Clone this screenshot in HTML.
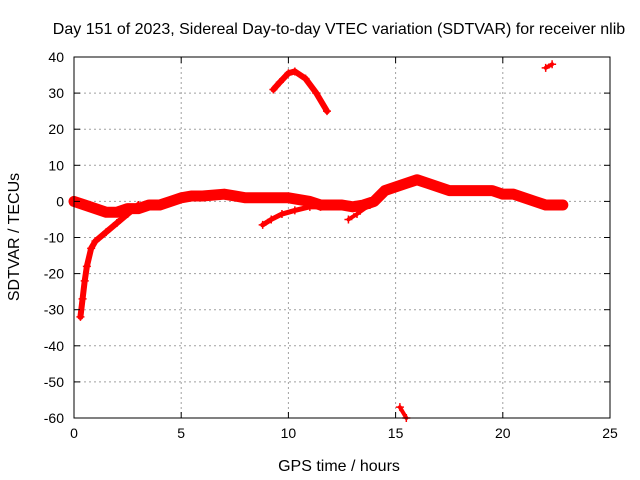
<!DOCTYPE html>
<html><head><meta charset="utf-8"><style>
body{margin:0;background:#fff;}
svg{display:block;font-family:"Liberation Sans",sans-serif;}
</style></head><body>
<svg id="chart" width="640" height="480">
<text x="339" y="34" font-size="16" text-anchor="middle">Day 151 of 2023, Sidereal Day-to-day VTEC variation (SDTVAR) for receiver nlib</text>
<text x="339" y="471" font-size="16" text-anchor="middle">GPS time / hours</text>
<text transform="translate(19,237) rotate(-90)" font-size="16" text-anchor="middle">SDTVAR / TECUs</text>
<g id="grid"></g><g id="marks"></g>
<rect x="74" y="57" width="536" height="361" fill="none" stroke="#000" stroke-width="1"/>
<g id="ticks"></g>
</svg>
<script>
const xTicks=[0,5,10,15,20,25];
const yTicks=[40,30,20,10,0,-10,-20,-30,-40,-50,-60];
const bandX=[0,0.5,1,1.5,2,2.5,3,3.5,4,4.5,5,5.5,6,7,7.5,8,9,10,11,11.5,12,12.5,13,13.5,14,14.5,15,15.5,16,16.5,17,17.5,18,19,19.5,20,20.5,21,21.5,22,22.5,22.8];
const bandY=[0,-1,-2,-3,-3,-2,-2,-1,-1,0,1,1.5,1.5,2,1.5,1,1,1,0,-1,-1,-1,-1.5,-1,0,3,4,5,6,5,4,3,3,3,3,2,2,1,0,-1,-1,-1];
const riseX=[0.3,0.4,0.5,0.6,0.8,1,1.5,2,2.5,3];
const riseY=[-32,-27,-22,-18,-13,-11,-8.5,-6,-3.5,-1];
const lowX=[8.8,9.2,9.7,10.3,11,11.5];
const lowY=[-6.5,-5,-3.5,-2.5,-1.5,-1.5];
const arcX=[9.3,9.6,10,10.3,10.8,11.3,11.8];
const arcY=[31,33,35.5,36,34,30,25];
const shortX=[12.8,13.2,13.8];
const shortY=[-5,-3.5,-1];
const dropX=[15.2,15.5];
const dropY=[-57,-60];
const highX=[22,22.3];
const highY=[37,38];
const X0=74,X1=610,Y0=418,Y1=57;
const sx=v=>X0+(v-0)/(25-0)*(X1-X0);
const sy=v=>Y0-(v+60)/(100)*(Y0-Y1);
const NS="http://www.w3.org/2000/svg";
const grid=document.getElementById('grid'),ticks=document.getElementById('ticks'),marks=document.getElementById('marks');
function mk(tag,attrs,parent){const e=document.createElementNS(NS,tag);for(const k in attrs)e.setAttribute(k,attrs[k]);parent.appendChild(e);return e;}
xTicks.forEach(t=>{const x=sx(t);
 if(t>0&&t<25){const g=mk('line',{x1:x,x2:x,y1:Y1,y2:Y0,stroke:'#a0a0a0','stroke-dasharray':'2,3'},grid);
 
 }
 mk('line',{x1:x,x2:x,y1:Y0,y2:Y0-6,stroke:'#000'},ticks);mk('line',{x1:x,x2:x,y1:Y1,y2:Y1+6,stroke:'#000'},ticks);
 const l=mk('text',{x:x,y:Y0+20,'font-size':14,'text-anchor':'middle'},ticks);l.textContent=t;
 
 });
yTicks.forEach(t=>{const y=sy(t);
 if(t>-60&&t<40){const g=mk('line',{x1:X0,x2:X1,y1:y,y2:y,stroke:'#a0a0a0','stroke-dasharray':'2,3'},grid);
 
 }
 mk('line',{x1:X0,x2:X0+6,y1:y,y2:y,stroke:'#000'},ticks);mk('line',{x1:X1,x2:X1-6,y1:y,y2:y,stroke:'#000'},ticks);
 const l=mk('text',{x:X0-10,y:y+5,'font-size':14,'text-anchor':'end'},ticks);l.textContent=t;
 
 });
function series(xs,ys,w,name){
 const pts=xs.map((v,i)=>sx(v)+','+sy(ys[i])).join(' ');
 const p=mk('polyline',{points:pts,fill:'none',stroke:'#f00','stroke-width':w,'stroke-linejoin':'round','stroke-linecap':'round'},marks);
 
 
 xs.forEach((v,i)=>{const x=sx(v),y=sy(ys[i]);
  const m=mk('path',{d:`M${x-4},${y}H${x+4}M${x},${y-4}V${y+4}`,stroke:'#f00','stroke-width':1.5},marks);
  
  });
}
series(bandX,bandY,11,'main-band');
series(riseX,riseY,6,'rising-curve');
series(lowX,lowY,5,'lower-curve');
series(arcX,arcY,6,'arc-curve');
series(shortX,shortY,4,'short-curve');
series(dropX,dropY,4,'drop-segment');
series(highX,highY,4,'high-segment');
</script>
</body></html>
